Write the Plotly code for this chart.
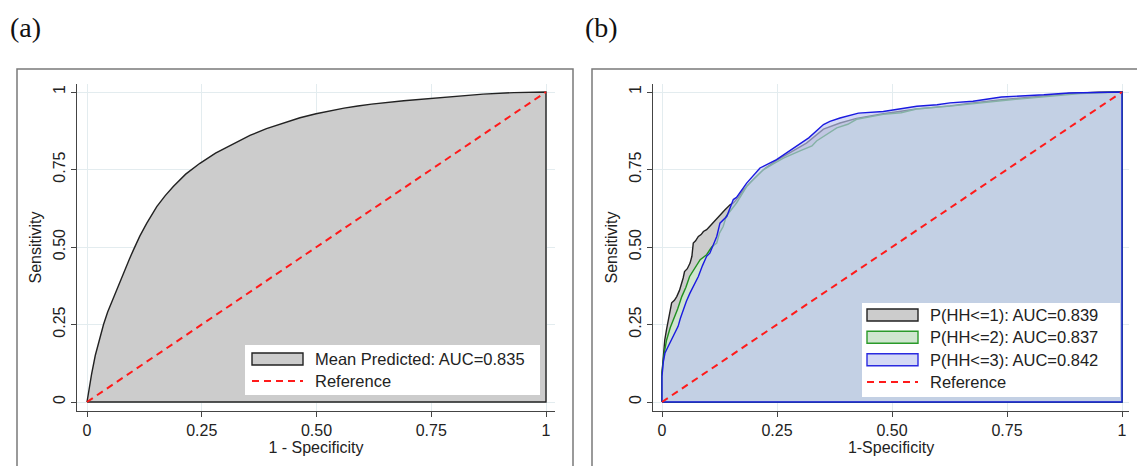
import plotly.graph_objects as go

W, H = 1137, 466

# ---------------- data ----------------
tick_vals = [0, 0.25, 0.5, 0.75, 1]
tick_text = ["0", "0.25", "0.50", "0.75", "1"]

# panel (a): mean predicted ROC
a_fpr = [0, 0.004, 0.01, 0.018, 0.028, 0.036, 0.045, 0.055, 0.065, 0.074, 0.083, 0.092, 0.101,
         0.115, 0.13, 0.141, 0.152, 0.17, 0.188, 0.215, 0.246, 0.28, 0.319, 0.355, 0.391,
         0.43, 0.464, 0.499, 0.53, 0.56, 0.59, 0.62, 0.69, 0.758, 0.81, 0.863, 0.93, 1.0]
a_tpr = [0, 0.04, 0.09, 0.15, 0.21, 0.25, 0.29, 0.327, 0.361, 0.397, 0.43, 0.46, 0.49,
         0.535, 0.576, 0.605, 0.63, 0.665, 0.695, 0.735, 0.77, 0.803, 0.834, 0.86, 0.882,
         0.902, 0.917, 0.93, 0.94, 0.948, 0.955, 0.961, 0.972, 0.98, 0.987, 0.993, 0.998, 1.0]
a_label = "Mean Predicted: AUC=0.835"

# panel (b): three cumulative outcomes
hh1_fpr = [0, 0, 0.003, 0.006, 0.01, 0.014, 0.018, 0.021, 0.027, 0.032, 0.038, 0.043, 0.046, 0.049,
           0.055, 0.061, 0.065, 0.068, 0.073, 0.079, 0.085, 0.09, 0.097, 0.104, 0.115, 0.126, 0.137,
           0.148, 0.155, 0.166, 0.177, 0.19, 0.206, 0.225, 0.25, 0.285, 0.314, 0.351, 0.387,
           0.423, 0.481, 0.554, 0.626, 0.676, 0.738, 0.83, 0.885, 0.95, 1.0, 1.0]
hh1_tpr = [0, 0.094, 0.147, 0.2, 0.235, 0.265, 0.29, 0.32, 0.328, 0.34, 0.36, 0.384, 0.4, 0.421,
           0.43, 0.448, 0.47, 0.513, 0.52, 0.534, 0.54, 0.55, 0.556, 0.567, 0.585, 0.604, 0.62,
           0.636, 0.642, 0.66, 0.685, 0.705, 0.728, 0.755, 0.78, 0.81, 0.835, 0.88, 0.9,
           0.915, 0.93, 0.945, 0.955, 0.965, 0.975, 0.987, 0.995, 0.999, 1.0, 0]
hh1_label = "P(HH<=1): AUC=0.839"

hh2_fpr = [0, 0, 0.004, 0.01, 0.018, 0.025, 0.034, 0.043, 0.052, 0.06, 0.072, 0.083, 0.09, 0.097,
           0.108, 0.119, 0.125, 0.133, 0.14, 0.151, 0.162, 0.173, 0.184, 0.2, 0.22, 0.242, 0.264,
           0.3, 0.326, 0.336, 0.38, 0.404, 0.423, 0.481, 0.52, 0.553, 0.626, 0.637, 0.737,
           0.83, 0.909, 1.0, 1.0]
hh2_tpr = [0, 0.094, 0.15, 0.2, 0.24, 0.265, 0.3, 0.34, 0.37, 0.405, 0.435, 0.459, 0.467, 0.475,
           0.5, 0.513, 0.545, 0.566, 0.6, 0.62, 0.642, 0.668, 0.695, 0.72, 0.749, 0.768, 0.787,
           0.81, 0.826, 0.842, 0.884, 0.896, 0.912, 0.928, 0.933, 0.945, 0.954, 0.956, 0.972,
           0.985, 0.995, 1.0, 0]
hh2_label = "P(HH<=2): AUC=0.837"

hh3_fpr = [0, 0, 0.003, 0.0065, 0.012, 0.017, 0.025, 0.035, 0.04, 0.046, 0.053, 0.061, 0.07,
           0.079, 0.088, 0.097, 0.104, 0.112, 0.119, 0.126, 0.141, 0.155, 0.162, 0.184, 0.213,
           0.249, 0.285, 0.314, 0.319, 0.351, 0.365, 0.387, 0.423, 0.427, 0.481, 0.504, 0.554,
           0.598, 0.626, 0.676, 0.738, 0.83, 0.885, 1.0, 1.0]
hh3_tpr = [0, 0.083, 0.13, 0.158, 0.175, 0.19, 0.215, 0.244, 0.27, 0.298, 0.325, 0.352, 0.38,
           0.405, 0.44, 0.47, 0.48, 0.51, 0.534, 0.577, 0.599, 0.653, 0.66, 0.706, 0.755,
           0.782, 0.819, 0.846, 0.852, 0.895, 0.905, 0.916, 0.93, 0.932, 0.937, 0.943, 0.954,
           0.959, 0.965, 0.97, 0.984, 0.991, 0.997, 1.0, 0]
hh3_label = "P(HH<=3): AUC=0.842"

ref_x = [0, 1]
ref_y = [0, 1]
ref_label = "Reference"

# ---------------- helpers ----------------
def px(x):
    return x / W

def py(y):
    return 1 - y / H

FONT = "Liberation Sans, Arial, sans-serif"
GRID = "#e3ecef"
AXC = "#444444"

fig = go.Figure()

# panel (a)
fig.add_trace(go.Scatter(x=a_fpr + [1, 0], y=a_tpr + [0, 0], fill="toself",
                         fillcolor="#cccccc", mode="lines",
                         line=dict(color="#222222", width=1.4),
                         xaxis="x", yaxis="y", name=a_label, showlegend=False))
fig.add_trace(go.Scatter(x=ref_x, y=ref_y, mode="lines",
                         line=dict(color="#ff1a1a", width=2, dash="7px,5px"),
                         xaxis="x", yaxis="y", name=ref_label, showlegend=False))

# panel (b)
fig.add_trace(go.Scatter(x=hh1_fpr + [0], y=hh1_tpr + [0], fill="toself",
                         fillcolor="rgba(204,204,204,1)", mode="lines",
                         line=dict(color="#222222", width=1.4),
                         xaxis="x2", yaxis="y2", name=hh1_label, showlegend=False))
fig.add_trace(go.Scatter(x=hh2_fpr + [0], y=hh2_tpr + [0], fill="toself",
                         fillcolor="rgba(210,255,210,0.5)", mode="lines",
                         line=dict(color="#1f8f1f", width=1.4),
                         xaxis="x2", yaxis="y2", name=hh2_label, showlegend=False))
fig.add_trace(go.Scatter(x=hh3_fpr + [0], y=hh3_tpr + [0], fill="toself",
                         fillcolor="rgba(188,196,240,0.646)", mode="lines",
                         line=dict(color="#1a1ae0", width=1.4),
                         xaxis="x2", yaxis="y2", name=hh3_label, showlegend=False))
fig.add_trace(go.Scatter(x=ref_x, y=ref_y, mode="lines",
                         line=dict(color="#ff1a1a", width=2, dash="7px,5px"),
                         xaxis="x2", yaxis="y2", name=ref_label, showlegend=False))

def xax(d0, d1, r0, r1, title):
    return dict(domain=[px(d0), px(d1)], range=[r0, r1], tickvals=tick_vals, ticktext=tick_text,
                ticks="outside", ticklen=5, tickcolor=AXC, showline=True, linecolor=AXC,
                linewidth=1, showgrid=True, gridcolor=GRID, gridwidth=1, zeroline=False,
                tickfont=dict(family=FONT, size=16, color="#222"),
                title=dict(text=title, font=dict(family=FONT, size=16, color="#222"), standoff=0))

def yax(anchor, r0, r1):
    return dict(domain=[py(411), py(84)], range=[r0, r1], tickvals=tick_vals, ticktext=tick_text,
                ticks="outside", ticklen=5, tickcolor=AXC, showline=True, linecolor=AXC,
                linewidth=1, showgrid=True, gridcolor=GRID, gridwidth=1, zeroline=False,
                tickangle=-90, anchor=anchor,
                tickfont=dict(family=FONT, size=16, color="#222"),
                title=dict(text="Sensitivity", font=dict(family=FONT, size=16, color="#222"),
                           standoff=4))

yr = (-9 / 310, 1 + 8 / 310)
fig.update_layout(
    width=W, height=H, margin=dict(l=0, r=0, t=0, b=0),
    paper_bgcolor="white", plot_bgcolor="white", showlegend=False,
    xaxis=xax(77, 555, -10 / 459, 1 + 9 / 459, "1 - Specificity") | dict(anchor="y"),
    yaxis=yax("x", *yr),
    xaxis2=xax(653, 1129, -9 / 460, 1 + 7 / 460, "1-Specificity") | dict(anchor="y2"),
    yaxis2=yax("x2", *yr),
)

shapes = []
annotations = []
# outer frames
shapes.append(dict(type="rect", xref="paper", yref="paper", x0=px(17), x1=px(573),
                   y0=py(475), y1=py(69), line=dict(color="#7a7a7a", width=1.5), layer="below"))
shapes.append(dict(type="rect", xref="paper", yref="paper", x0=px(592), x1=px(1145),
                   y0=py(475), y1=py(69), line=dict(color="#7a7a7a", width=1.5), layer="below"))

# panel labels
annotations.append(dict(text="(a)", x=px(8), y=py(28), xref="paper", yref="paper",
                        xanchor="left", yanchor="middle", showarrow=False,
                        font=dict(family="Liberation Serif, Times New Roman, serif", size=28, color="#111")))
annotations.append(dict(text="(b)", x=px(583), y=py(28), xref="paper", yref="paper",
                        xanchor="left", yanchor="middle", showarrow=False,
                        font=dict(family="Liberation Serif, Times New Roman, serif", size=28, color="#111")))

LF = dict(family=FONT, size=16.5, color="#222")

def legend_box(x0, y0, x1, y1):
    shapes.append(dict(type="rect", xref="paper", yref="paper", x0=px(x0), x1=px(x1),
                       y0=py(y1), y1=py(y0), fillcolor="white", line=dict(width=0), layer="above"))

def legend_rect(x0, yc, fill, edge, label):
    shapes.append(dict(type="rect", xref="paper", yref="paper", x0=px(x0), x1=px(x0 + 51),
                       y0=py(yc + 6), y1=py(yc - 6), fillcolor=fill,
                       line=dict(color=edge, width=1.4), layer="above"))
    annotations.append(dict(text=label, x=px(x0 + 61), y=py(yc), xref="paper", yref="paper",
                            xanchor="left", yanchor="middle", showarrow=False, font=LF))

def legend_dash(x0, yc, label):
    shapes.append(dict(type="line", xref="paper", yref="paper", x0=px(x0), x1=px(x0 + 51),
                       y0=py(yc), y1=py(yc), line=dict(color="#ff1a1a", width=2, dash="7px,5px"),
                       layer="above"))
    annotations.append(dict(text=label, x=px(x0 + 61), y=py(yc), xref="paper", yref="paper",
                            xanchor="left", yanchor="middle", showarrow=False, font=LF))

legend_box(245, 345, 540, 395)
legend_rect(252, 359, "#cccccc", "#222222", a_label)
legend_dash(252, 381, ref_label)

legend_box(862, 303, 1120, 397)
legend_rect(867, 315, "#cccccc", "#222222", hh1_label)
legend_rect(867, 337.3, "#cfe6cf", "#2a9a2a", hh2_label)
legend_rect(867, 359.7, "#d4d9f5", "#2a2ae0", hh3_label)
legend_dash(867, 382, ref_label)

fig.update_layout(shapes=shapes, annotations=annotations)
fig.write_html("out.html")
